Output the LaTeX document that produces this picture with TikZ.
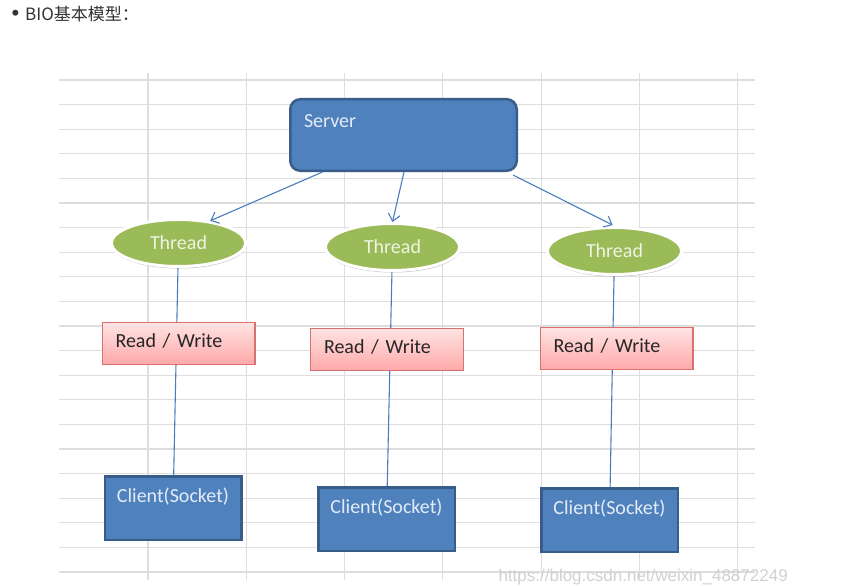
\documentclass[tikz,border=0pt]{standalone}
\usepackage{fontspec}
\setmainfont{Carlito}
\newfontfamily\cjkfont{Noto Sans CJK SC}
\newfontfamily\markfont{Liberation Sans}
\usetikzlibrary{positioning,arrows.meta,shapes.geometric,backgrounds,shadows}
\definecolor{srvblue}{HTML}{4F81BD}
\definecolor{srvedge}{HTML}{385D8A}
\definecolor{bluetext}{HTML}{E3ECF6}
\definecolor{thrgreen}{HTML}{9BBB59}
\definecolor{thrtext}{HTML}{EEF3E2}
\definecolor{rwtop}{HTML}{FFE3E3}
\definecolor{rwbot}{HTML}{FFA9A9}
\definecolor{rwedge}{HTML}{D8726F}
\definecolor{linkblue}{HTML}{4A7EBB}
\definecolor{gridgray}{HTML}{DEDEDE}

\begin{document}
\begin{tikzpicture}[
  x=1pt, y=-1pt,
  font=\fontsize{20}{24}\selectfont,
  >={Straight Barb[length=7pt,width=12pt]},
  box/.style={draw, inner sep=0pt},
  bluebox/.style={box, fill=srvblue, draw=srvedge, line width=2.5pt, text=bluetext},
  server/.style={bluebox, rounded corners=10pt, minimum width=226.5pt, minimum height=71.5pt},
  thread/.style={ellipse, fill=thrgreen, draw=white, line width=3pt, minimum width=134pt, minimum height=47pt, inner sep=0pt, text=thrtext, drop shadow={shadow xshift=0.5pt, shadow yshift=-2pt, fill=black!40, opacity=0.6}},
  rw/.style={box, draw=rwedge, line width=1.2pt, top color=rwtop, bottom color=rwbot, minimum width=152.8pt, minimum height=41.8pt, text width=126pt, align=left, text height=14pt, text depth=7pt, text=black!85},
  client/.style={bluebox, minimum width=136.5pt, minimum height=63.5pt},
  flow/.style={->, draw=linkblue, line width=1.1pt},
  link/.style={draw=linkblue, line width=1.1pt}
]
\useasboundingbox (0,0) rectangle (855,586);
\begin{scope}[on background layer]
  \fill[white] (0,0) rectangle (855,586);
  \foreach \k in {0,...,20}
    \draw[gridgray, line width=1.1pt] (59,80+24.6*\k) -- (755,80+24.6*\k);
  \foreach \k in {0,...,6}
    \draw[gridgray, line width=1.1pt] (148+98.3*\k,73) -- (148+98.3*\k,580);
\end{scope}

\node[anchor=west, font=\cjkfont\fontsize{17}{20}\selectfont, text=black!80] (title) at (8,14) {{\markfont\fontsize{22}{22}\selectfont •}\hspace{6pt}BIO基本模型：};

\node[server] (server) at (403.5,135) {\parbox[c][40pt][t]{199pt}{Server}};

\node[thread, below=46pt of server, xshift=-225pt] (t1) {Thread};
\node[thread, below=50pt of server, xshift=-11pt] (t2) {Thread};
\node[thread, below=54pt of server, xshift=211pt] (t3) {Thread};

\node[rw, below=54pt of t1] (rw1) {Read / Write};
\node[rw, below=56pt of t2, xshift=-5.5pt] (rw2) {Read / Write};
\node[rw, below=51pt of t3, xshift=2pt] (rw3) {Read / Write};

\node[client, below=110pt of rw1, xshift=-5.5pt] (c1) {\parbox[c][40pt][t]{130pt}{\centering Client(Socket)}};
\node[client, below=115pt of rw2, xshift=-0.5pt] (c2) {\parbox[c][40pt][t]{130pt}{\centering Client(Socket)}};
\node[client, below=117pt of rw3, xshift=-7pt] (c3) {\parbox[c][40pt][t]{130pt}{\centering Client(Socket)}};

\draw[flow] ([xshift=-81pt]server.south) -- (t1.35);
\draw[flow] ([xshift=0.5pt]server.south) -- (t2.north);
\draw[flow, shorten >=2pt] ([xshift=-5pt, yshift=-3pt]server.south east) -- (t3.north);

\begin{scope}[on background layer]
  \draw[link] (t1) -- (c1);
  \draw[link] (t2) -- (c2);
  \draw[link] (t3) -- (c3);
\end{scope}

\node[anchor=west, font=\markfont\fontsize{17}{20}\selectfont, text=black!18] (mark) at (495,577) {https://blog.csdn.net/weixin\_48872249};
\end{tikzpicture}
\end{document}
